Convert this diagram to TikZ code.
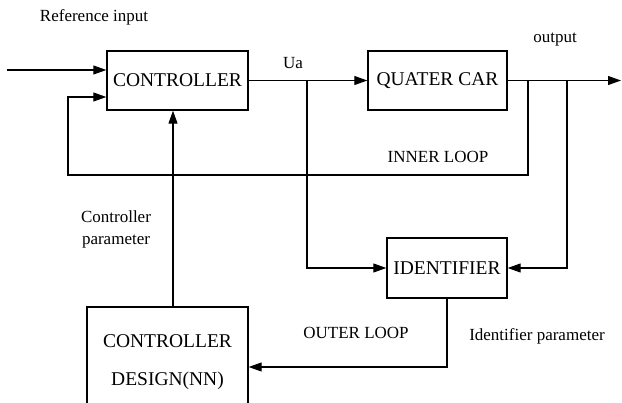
\documentclass[tikz,border=0pt]{standalone}
\usepackage{fontspec}
\setmainfont{Liberation Serif}
\usepackage{tikz}
\usetikzlibrary{arrows.meta, positioning, calc}

\begin{document}
\begin{tikzpicture}[x=1pt, y=-1pt,
    block/.style={rectangle, draw, line width=1.4pt, inner sep=0pt,
                  font=\fontsize{19.5}{24}\selectfont, align=center},
    lbl/.style={font=\fontsize{17}{22}\selectfont, align=center},
    wire/.style={line width=1.1pt},
    flow/.style={wire, -{Triangle[length=13pt, width=9pt]}}]
    \useasboundingbox (0,0) rectangle (622,403);

    % Blocks
    \node[block, minimum width=141pt, minimum height=59pt] (ctrl) at (177.5,80.5) {CONTROLLER};
    \node[block, minimum width=139pt, minimum height=59pt] (car) at (437.5,80.5) {QUATER CAR};
    \node[block, minimum width=120pt, minimum height=60pt] (ident) at (447,268) {IDENTIFIER};
    \node[block, minimum width=161pt, minimum height=110pt] (design) at (167.5,362)
        {CONTROLLER\\[14pt]DESIGN(NN)};

    % Labels
    \node[lbl] (refin) at (94,17) {Reference input};
    \node[lbl] (ua) at (293,63) {Ua};
    \node[lbl] (outlbl) at (555,40) {output};
    \node[lbl] (inner) at (438,157) {INNER LOOP};
    \node[lbl] (cpar) at (116,229) {Controller\\parameter};
    \node[lbl] (outer) at (356,333) {OUTER LOOP};
    \node[lbl] (ipar) at (537,336) {Identifier parameter};

    % Corner points
    \coordinate (in) at (7,70);
    \coordinate (split) at (307,80.5);
    \coordinate (out) at (621,80.5);
    \coordinate (tapin) at (528,80.5);
    \coordinate (tapid) at (567,80.5);
    \coordinate (fbx) at (68,97);
    \coordinate (cp) at (173,0);

    % Arrows
    \draw[flow] (in) -- (in -| ctrl.west);
    \draw[wire] (ctrl.east) -- (split);
    \draw[flow] (split) -- (car.west);
    \draw[flow] (car.east) -- (out);
    \draw[flow] (tapin) -- (tapin |- 0,175) -- (fbx |- 0,175) -- (fbx) -- (fbx -| ctrl.west);
    \draw[flow] (tapid) |- (ident.east);
    \draw[flow] (split) |- (ident.west);
    \draw[flow] (ident.south) -- (ident.south |- 0,367) -- (design.east |- 0,367);
    \draw[flow] (design.north -| cp) -- (ctrl.south -| cp);
\end{tikzpicture}
\end{document}
